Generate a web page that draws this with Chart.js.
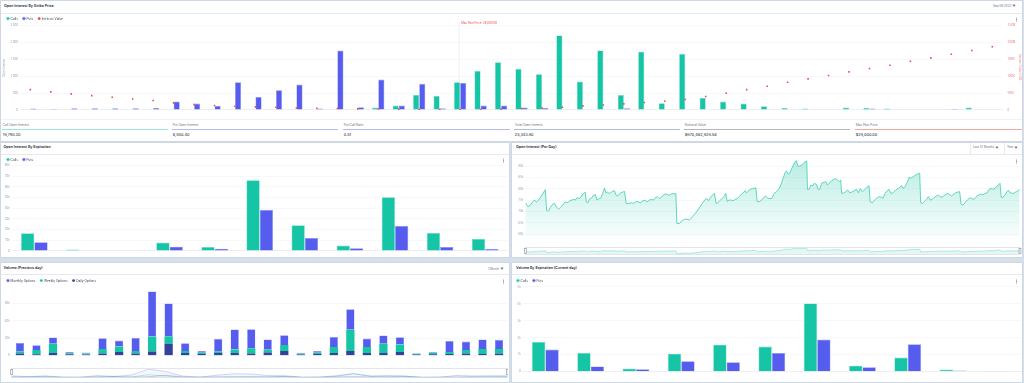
<!DOCTYPE html>
<html><head><meta charset="utf-8">
<script src="https://cdn.jsdelivr.net/npm/chart.js@4.4.1/dist/chart.umd.min.js"></script>
<style>
html,body{margin:0;padding:0;}
body{width:1024px;height:383px;overflow:hidden;background:#d7dfea;position:relative;font-family:Inter,"Noto Sans",sans-serif;}
.panel{position:absolute;background:#fff;box-shadow:0 0 0 0.6px #c9d3e0;}
.t{position:absolute;white-space:nowrap;line-height:1;}
.title{font-size:3.6px;font-weight:600;color:#1f2937;}
.sep{position:absolute;height:0.7px;background:#e6e9ee;}
.vsep{position:absolute;width:0.7px;background:#e6e9ee;}
canvas{position:absolute;}
.kebab{position:absolute;width:1px;height:1px;border-radius:50%;background:#6b7280;box-shadow:0 -1.6px 0 #6b7280,0 1.6px 0 #6b7280;}
.sl{font-size:3.1px;color:#6b7280;}
.sv{font-size:3.9px;color:#111827;}
.ul{position:absolute;height:0.8px;}
.dd{font-size:3px;color:#6b7280;}
.chev{display:inline-block;width:1px;height:1px;border-right:0.5px solid #6b7280;border-bottom:0.5px solid #6b7280;transform:rotate(45deg);margin-left:1.5px;position:relative;top:-0.6px;}
</style></head><body>

<!-- panels -->
<div class="panel" style="left:1px;top:1px;width:1021px;height:139.5px"></div>
<div class="panel" style="left:1px;top:142.7px;width:508px;height:114.8px"></div>
<div class="panel" style="left:512px;top:142.7px;width:510px;height:114.8px"></div>
<div class="panel" style="left:1px;top:262.8px;width:508px;height:119px"></div>
<div class="panel" style="left:512px;top:262.8px;width:510px;height:119px"></div>

<!-- headers -->
<div class="t title" style="left:4px;top:4.7px">Open Interest By Strike Price</div>
<div class="t dd" style="left:993px;top:5px">Sep 08 2023<span class="chev"></span></div>
<div class="sep" style="left:1px;top:12.5px;width:1021px"></div>

<div class="t title" style="left:3.5px;top:146.2px">Open Interest By Expiration</div>
<div class="sep" style="left:1px;top:154px;width:508px"></div>

<div class="t title" style="left:516px;top:145.8px">Open Interest (Per Day)</div>
<div class="vsep" style="left:970px;top:142.7px;height:11.3px"></div>
<div class="t dd" style="left:973px;top:146.3px">Last 12 Months<span class="chev"></span></div>
<div class="vsep" style="left:1004px;top:142.7px;height:11.3px"></div>
<div class="t dd" style="left:1007px;top:146.3px">Year<span class="chev"></span></div>
<div class="sep" style="left:512px;top:154px;width:510px"></div>

<div class="t title" style="left:3.5px;top:267.2px">Volume (Previous day)</div>
<div class="t dd" style="left:488px;top:267.6px">1 Month<span class="chev"></span></div>
<div class="sep" style="left:1px;top:274px;width:508px"></div>

<div class="t title" style="left:516px;top:267.2px">Volume By Expiration (Current day)</div>
<div class="sep" style="left:512px;top:274px;width:510px"></div>

<div class="kebab" style="left:1016px;top:19.3px"></div>
<div class="kebab" style="left:503px;top:160px"></div>
<div class="kebab" style="left:1016px;top:160.5px"></div>
<div class="kebab" style="left:503px;top:281px"></div>
<div class="kebab" style="left:1016px;top:281px"></div>

<!-- stats row -->
<div class="sep" style="left:1px;top:119px;width:1021px;background:#f0f2f5"></div>
<div id="stats"></div>

<canvas id="cStrike" width="1020" height="106" style="left:2px;top:12.4px"></canvas>
<canvas id="cExp" width="506" height="104" style="left:2px;top:153.4px"></canvas>
<canvas id="cDay" width="510" height="87" style="left:512px;top:155px"></canvas>
<canvas id="cDayNav" width="510" height="12" style="left:512px;top:245.5px"></canvas>
<canvas id="cVol" width="506" height="92" style="left:2px;top:274.4px"></canvas>
<canvas id="cVolNav" width="506" height="15" style="left:2px;top:366.5px"></canvas>
<canvas id="cVolExp" width="510" height="107" style="left:512px;top:274.4px"></canvas>

<script>
// ---------- DATA ----------
const strikeLabels = ['10000','12000','14000','15000','16000','17000','18000','19000','20000','20500','21000','21500','22000','22500','23000','23500','24000','24500','25000','25250','25500','26000','26500','27000','28000','29000','30000','31000','32000','33000','34000','35000','36000','37000','38000','39000','40000','41000','42000','43000','44000','45000','46000','47000','48000','50000','55000','60000'];
const callsOI = [0,0,0,0,0,0,0,0,0,0,0,0,0,0,0,0,0,68,128,445,415,819,1157,1413,1217,1060,2210,840,1765,440,1725,200,1662,356,246,187,107,59,40,10,68,59,40,0,0,20,68,0];
const putsOI = [40,25,50,50,50,50,60,246,187,118,819,385,582,750,40,1760,77,900,128,772,48,800,128,128,68,55,15,0,15,50,0,0,0,0,0,0,0,0,0,0,0,40,0,10,0,30,0,0];
const intrinsicM = [60.2,53.4,47.5,42.4,37.4,32.6,27.6,20.8,15.7,12.8,10.7,8.9,7.7,5.9,4.7,3.9,3.0,2.4,1.8,1.2,0.9,0.6,0.9,2.1,3.9,5.9,7.7,11.9,14.8,17.8,21.7,25.5,30.6,39.5,49.3,60.2,70.0,81.9,92.0,101.8,112.8,122.6,132.4,144.2,154.3,165.0,176.0,187.0];
const maxPainStrike = '26000';
const maxPainText = 'Max Pain Price: 26,000.00';
const strikeYTicks = [0,500,1000,1500,2000,2500];
const intrinsicYTicks = [0,50,100,150,200,250];

const statLabels = ['Call Open Interest','Put Open Interest','Put/Call Ratio','Total Open Interest','Notional Value','Max Pain Price'];
const statValues = ['16,793.20','8,550.40','0.51','25,343.60','$670,482,626.58','$26,000.00'];

const expiries = ['08 Sep','09 Sep','10 Sep','15 Sep','22 Sep','29 Sep','27 Oct','24 Nov','29 Dec','29 Mar','28 Jun'];
const expCallsK = [16.5,1.2,0,7.8,3.7,66.3,24.0,5.0,50.3,16.9,11.3];
const expPutsK = [8.1,0.3,0,4.0,2.1,38.5,12.2,2.5,23.5,3.7,1.9];

const volExpCallsK = [1.75,1.10,0.18,1.06,1.59,1.48,4.02,0.35,0.83,0.12,0.04];
const volExpPutsK = [1.30,0.30,0.14,0.61,0.55,1.10,1.89,0.26,1.61,0.06,0.03];

const volDays = ['9 Aug','10 Aug','11 Aug','12 Aug','13 Aug','14 Aug','15 Aug','16 Aug','17 Aug','18 Aug','19 Aug','20 Aug','21 Aug','22 Aug','23 Aug','24 Aug','25 Aug','26 Aug','27 Aug','28 Aug','29 Aug','30 Aug','31 Aug','1 Sep','2 Sep','3 Sep','4 Sep','5 Sep','6 Sep','7 Sep'];
const volMonthlyK = [9.6,5.4,7.3,1.5,1.2,12.3,6.9,15.0,51.9,37.7,8.8,1.9,14.2,23.1,21.9,11.9,11.2,1.2,1.9,11.5,23.8,9.6,9.6,8.5,0.8,0.8,12.7,9.6,10.8,10.4];
const volWeeklyK = [2.7,5.0,10.4,1.2,1.2,5.4,6.2,3.1,17.3,8.8,2.3,1.5,1.9,3.8,6.2,3.1,6.9,0.8,1.5,6.9,24.2,6.9,10.4,8.5,0.8,1.9,2.3,4.2,5.8,5.4];
const volDailyK = [2.3,1.5,3.1,1.5,1.2,2.3,4.2,2.3,4.6,13.5,3.1,1.9,3.1,3.1,2.3,3.5,5.4,1.2,1.9,3.1,5.4,3.1,3.1,4.2,1.2,1.5,1.9,2.3,1.9,2.3];
const volYTicks = [0,20,40,60];

// Open interest per day: day offset from 9 Sep 2022, value in thousands
const oiDay = [0,2,3.7,5.4,6.9,8.1,9.8,11.5,13,14.7,15.7,17.2,18.6,20.1,21.6,23,24.5,26,27.5,28.9,30.1,31.4,32.6,34.3,35.8,36.8,38.2,40,41.7,43.1,44.1,44.9,46.1,47.3,48.5,49.8,51.5,52.7,53.9,55.4,56.9,58.3,59.3,60.5,61.8,63,64.5,65.7,66.7,67.6,68.9,70.1,71.6,73,74.3,76,77.9,79.7,81.4,82.8,84.6,86.5,88.2,89.5,91.2,92.6,94.4,95.6,97.3,98.8,100.5,102.2,103.7,105.4,106.6,107.8,109.6,110.8,111.5,113.5,115.2,117.2,118.9,120.6,122.5,125,127,128.9,130.6,132.4,133.8,134.8,136.3,137.7,139.2,140.4,141.7,142.9,144.6,146.3,147.5,148.5,150,151.5,152.9,154.4,155.9,157.4,158.8,160.3,161.8,162.7,163.7,165.4,167.2,169.6,170.6,172.3,174,176,176.9,178.4,180.1,181.4,183.1,184.8,186.8,188,189.7,191.2,192.2,193.4,194.6,196.1,197.3,198.5,199.5,200.5,202,203.4,205.1,206.4,207.1,207.6,208.8,210,211.3,212.7,214.2,215.4,216.7,218.1,219.9,221.1,222.3,223.5,225.5,227.2,228.4,229.7,230.9,232.1,232.8,234.6,235.8,237.3,238.7,240.2,241.9,243.6,245.1,246.6,248,250,251.7,252.9,253.7,255.4,256.9,258.3,260.3,262.3,263.2,264.7,266.2,267.6,269.1,270.6,272.5,274,275.5,276.9,277.9,279.4,280.9,282.4,283.8,285.3,287.3,288.7,290.2,290.9,292.2,293.6,295.1,296.6,298,299.5,301,302.5,303.9,305.1,306.4,307.8,309.3,311,312.5,313.7,315.4,316.7,318.1,319.6,320.6,322.1,323.5,325.2,326.5,327.9,329.4,330.9,332.4,333.8,335.3,336.8,338.2,339.9,341.2,342.6,344.1,345.6,347.1,348.5,349.3,350.2,351.5,353,354.4,355.4,356.6,358.3,360,361.3,362.7,363.7];
const oiValK = [73.9,72.2,72.8,74.4,75.1,74.2,75.1,76.6,78.0,79.7,70.4,70.3,71.9,73.2,73.6,71.9,71.1,71.9,72.9,74.1,74.2,73.9,74.8,75.1,75.4,75.1,76.1,75.8,77.3,78.0,78.6,74.2,73.9,75.7,75.8,76.9,77.6,75.1,75.6,75.8,78.0,80.4,78.3,78.6,78.0,78.5,79.1,79.2,77.3,76.9,77.5,78.2,78.6,78.9,73.6,73.6,73.9,73.6,74.4,74.4,73.9,74.8,75.1,74.2,75.0,75.4,75.1,76.1,76.6,75.7,76.6,77.6,77.8,77.2,77.5,77.9,77.8,78.0,64.8,64.8,66.0,66.6,66.7,66.3,67.3,69.2,70.7,72.5,73.9,75.4,75.7,74.8,76.3,77.3,78.0,73.6,73.9,74.8,75.6,76.6,78.0,74.5,75.1,75.1,74.8,75.4,75.7,76.6,77.6,78.3,79.2,78.3,78.8,79.8,80.1,80.5,74.4,74.4,75.1,76.6,76.9,75.8,75.8,75.8,78.0,78.8,80.2,81.7,84.7,87.2,88.0,86.6,86.9,89.1,90.5,92.0,92.4,90.1,90.1,90.5,91.6,92.0,92.3,79.8,79.8,81.7,81.3,82.5,82.0,79.8,79.8,82.5,82.9,83.2,81.7,82.5,83.6,84.2,84.5,83.9,83.2,83.9,78.0,78.3,78.8,79.5,78.3,78.6,79.2,79.8,78.3,80.2,78.8,79.8,81.0,81.4,74.4,73.9,75.1,75.8,76.6,76.3,75.8,78.0,79.2,79.8,78.0,78.3,79.5,80.1,80.7,81.6,80.2,81.0,82.7,85.1,84.7,85.4,86.1,86.6,86.9,73.9,73.6,74.4,75.4,76.6,75.1,75.4,76.3,76.9,77.3,76.6,76.3,76.9,77.6,78.0,77.3,76.9,77.8,78.3,78.6,78.8,73.3,72.9,73.9,75.1,75.8,76.1,75.4,75.8,77.0,77.3,77.8,77.3,78.0,78.3,79.8,80.2,79.9,80.2,81.3,82.0,82.5,76.3,76.3,77.3,78.8,79.5,78.5,78.0,78.3,78.8,79.2,79.8];
const oiYTicks = [60,65,70,75,80,85,90];
const oiTickDays = [8,26,41,55,69,84,99,112,129,144,158,172,187,202,216,242,256,271,286,301,315,330,344,360];
const oiTickLabels = ['18 Sep','2 Oct','16 Oct','30 Oct','13 Nov','27 Nov','11 Dec','1 Jan','15 Jan','29 Jan','12 Feb','26 Feb','12 Mar','26 Mar','9 Apr','7 May','21 May','4 Jun','18 Jun','2 Jul','16 Jul','30 Jul','13 Aug','27 Aug'];
const navTickDays = [20,52,85,118,151,179,237,265,296,332,360];
const navTickLabels = ['Oct 22','Nov 22','Dec 22','Jan 23','Feb 23','Mar 23','May 23','Jun 23','Jul 23','Aug 23','Sep 23'];

// ---------- STYLE ----------
const F = 'Inter, "Noto Sans", sans-serif';
const TEAL = '#15c5a6', TEAL_L = '#6fdcc7';
const BLUE = '#555cee', BLUE_L = '#9296f4';
const NAVY = '#33429a';
const RED = '#f04848';
const TICK = '#9ca3af';
const GRID = '#f1f3f6';
Chart.defaults.font.family = F;
Chart.defaults.color = TICK;
Chart.defaults.animation = false;
Chart.defaults.responsive = false;
Chart.defaults.plugins.tooltip.enabled = false;

const legendFix = { id:'legendFix', beforeInit(chart, args, opts){ const lg = chart.legend; if(!lg || !opts || opts.h == null) return; const f = lg.fit; lg.fit = function(){ f.call(this); this.height = opts.h; }; } };
const navFrame = { id:'navFrame', afterDraw(chart){ const a = chart.chartArea, c = chart.ctx; c.save(); c.strokeStyle='#cfd6e0'; c.lineWidth=0.6; c.strokeRect(a.left, a.top, a.right-a.left, a.bottom-a.top); c.fillStyle='#f3f4f6'; c.strokeStyle='#8a94a3'; [a.left, a.right].forEach(x=>{ c.fillRect(x-1, a.top+1, 2, 5); c.strokeRect(x-1, a.top+1, 2, 5); }); c.restore(); } };
const fixW = w => s => { s.width = w; };
const fixH = h => s => { s.height = h; };
const tickFont = {size:2.8, family:F};
const legendOpts = (h, sort) => ({ align:'start', labels:{ usePointStyle:true, pointStyle:'circle', boxWidth:2, boxHeight:2, padding:5, font:{size:3.2, family:F}, color:'#374151', sort } });
const BW = 0.6;

// ---------- STATS ROW ----------
(function(){
  const lefts = [2,172,343,514,684,855];
  const widths = [166,166,167,166,166,167];
  const cols = ['#9fe3d4','#b8baf4','#b8baf4','#aebfdc','#b3b7bd','#f2aaa3'];
  const box = document.getElementById('stats');
  statLabels.forEach((lab,i)=>{
    box.insertAdjacentHTML('beforeend',
      `<div class="t sl" style="left:${lefts[i]+0.8}px;top:123.7px">${lab}</div>`+
      `<div class="ul" style="left:${lefts[i]}px;top:128.8px;width:${widths[i]}px;background:${cols[i]}"></div>`+
      `<div class="t sv" style="left:${lefts[i]+0.8}px;top:132.6px">${statValues[i]}</div>`);
  });
})();

// ---------- OPEN INTEREST BY STRIKE ----------
const maxPain = { id:'maxPain',
  beforeDatasetsDraw(chart){ const i = strikeLabels.indexOf(maxPainStrike); const x = chart.scales.x.getPixelForValue(i) - 1; const a = chart.chartArea, c = chart.ctx; c.save(); c.strokeStyle='#e3e6ea'; c.lineWidth=0.7; c.beginPath(); c.moveTo(x, a.top-3); c.lineTo(x, a.bottom); c.stroke(); c.restore(); },
  afterDatasetsDraw(chart){ const i = strikeLabels.indexOf(maxPainStrike); const x = chart.scales.x.getPixelForValue(i) + 1; const c = chart.ctx; c.save(); c.fillStyle = RED; c.font = '2.9px '+F; c.textBaseline='middle'; c.fillText(maxPainText, x, chart.chartArea.top - 2.6); c.restore(); } };

new Chart(document.getElementById('cStrike'), {
  type:'bar',
  data:{ labels: strikeLabels, datasets:[
    {label:'Calls', data:callsOI, backgroundColor:TEAL, borderColor:TEAL_L, borderWidth:BW, categoryPercentage:0.6, barPercentage:1, order:1},
    {label:'Puts', data:putsOI, backgroundColor:BLUE, borderColor:BLUE_L, borderWidth:BW, categoryPercentage:0.6, barPercentage:1, order:1},
    {type:'line', label:'Intrinsic Value', data:intrinsicM, yAxisID:'y1', showLine:false, pointStyle:'rect', pointRadius:1.1, pointBackgroundColor:RED, pointBorderWidth:0, backgroundColor:RED, borderColor:RED, order:0}
  ]},
  options:{
    layout:{padding:0},
    plugins:{ legend: legendOpts(13.6, (a,b)=>a.datasetIndex-b.datasetIndex), legendFix:{h:13.6} },
    scales:{
      x:{ grid:{display:false}, border:{color:'#e5e7eb', width:0.6}, ticks:{font:tickFont, color:TICK, maxRotation:0, autoSkip:false, padding:1.5}, afterFit: fixH(8.1) },
      y:{ min:0, max:2500, afterBuildTicks:s=>{ s.ticks = strikeYTicks.map(v=>({value:v})); }, ticks:{font:tickFont, color:TICK, padding:2}, grid:{color:GRID, drawTicks:false, lineWidth:0.6}, border:{display:false},
          title:{display:true, text:'Open Interest', font:{size:2.8, family:F}, color:TICK, padding:{top:0,bottom:0}}, afterFit: fixW(18.1) },
      y1:{ position:'right', min:0, max:250, afterBuildTicks:s=>{ s.ticks = intrinsicYTicks.map(v=>({value:v})); }, ticks:{font:tickFont, color:'#f08080', padding:5, callback:v=> v===0 ? '0' : v+'M'}, grid:{display:false, drawTicks:false}, border:{display:false},
          title:{display:true, text:'Intrinsic Value (USD)', font:{size:2.8, family:F}, color:'#f08080', padding:{top:0,bottom:0}}, afterFit: fixW(19.5) }
    }
  },
  plugins:[legendFix, maxPain]
});

// ---------- OPEN INTEREST BY EXPIRATION ----------
new Chart(document.getElementById('cExp'), {
  type:'bar',
  data:{ labels: expiries, datasets:[
    {label:'Calls', data:expCallsK, backgroundColor:TEAL, borderColor:TEAL_L, borderWidth:BW, categoryPercentage:0.59, barPercentage:1},
    {label:'Puts', data:expPutsK, backgroundColor:BLUE, borderColor:BLUE_L, borderWidth:BW, categoryPercentage:0.59, barPercentage:1}
  ]},
  options:{
    layout:{padding:{right:0.3}},
    plugins:{ legend: legendOpts(12.6), legendFix:{h:12.6} },
    scales:{
      x:{ grid:{display:false}, border:{color:'#e5e7eb', width:0.6}, ticks:{font:tickFont, color:TICK, maxRotation:0, autoSkip:false, padding:1.5}, afterFit: fixH(6.1) },
      y:{ min:0, max:80, ticks:{stepSize:10, font:tickFont, color:TICK, padding:2, callback:v=> v===0 ? '0' : v+'k'}, grid:{color:GRID, drawTicks:false, lineWidth:0.6}, border:{display:false}, afterFit: fixW(9.8) }
    }
  },
  plugins:[legendFix]
});

// ---------- OPEN INTEREST PER DAY ----------
const oiPoints = oiDay.map((d,i)=>({x:d, y:oiValK[i]}));
const areaFill = (ctx) => { const ch = ctx.chart, a = ch.chartArea; if(!a) return 'rgba(23,196,166,0.15)'; const g = ch.ctx.createLinearGradient(0, a.top, 0, a.bottom); g.addColorStop(0,'rgba(23,196,166,0.30)'); g.addColorStop(1,'rgba(23,196,166,0.03)'); return g; };
new Chart(document.getElementById('cDay'), {
  type:'line',
  data:{ datasets:[{ label:'Open Interest', data:oiPoints, borderColor:'#4fd3b8', borderWidth:0.9, pointRadius:0, fill:'start', backgroundColor:areaFill, tension:0 }]},
  options:{
    layout:{padding:{top:4.4, right:2}},
    plugins:{ legend:{display:false} },
    scales:{
      x:{ type:'linear', min:0, max:364, afterBuildTicks:s=>{ s.ticks = oiTickDays.map(v=>({value:v})); }, ticks:{font:tickFont, color:TICK, maxRotation:0, autoSkip:false, padding:1.5, callback:(v,i)=>oiTickLabels[i]}, grid:{display:false}, border:{display:false}, afterFit: fixH(5.4) },
      y:{ min:59, max:93, afterBuildTicks:s=>{ s.ticks = oiYTicks.map(v=>({value:v})); }, ticks:{font:tickFont, color:TICK, padding:2, callback:v=>v+'k'}, grid:{color:GRID, drawTicks:false, lineWidth:0.6}, border:{display:false}, afterFit: fixW(13.3) }
    }
  }
});
new Chart(document.getElementById('cDayNav'), {
  type:'line',
  data:{ datasets:[{ data:oiPoints, borderColor:'#7fdcc8', borderWidth:0.6, pointRadius:0, fill:'start', backgroundColor:'rgba(23,196,166,0.12)', tension:0 }]},
  options:{
    layout:{padding:{top:1.5, left:13.3, right:2}},
    plugins:{ legend:{display:false} },
    scales:{
      x:{ type:'linear', min:0, max:364, afterBuildTicks:s=>{ s.ticks = navTickDays.map(v=>({value:v})); }, ticks:{font:{size:2.5,family:F}, color:'#a7aeb8', maxRotation:0, autoSkip:false, padding:0.5, callback:(v,i)=>navTickLabels[i]}, grid:{display:false}, border:{display:false}, afterFit: fixH(3.5) },
      y:{ display:false, min:60, max:96 }
    }
  },
  plugins:[navFrame]
});

// ---------- VOLUME PREVIOUS DAY ----------
new Chart(document.getElementById('cVol'), {
  type:'bar',
  data:{ labels: volDays, datasets:[
    {label:'Daily Options', data:volDailyK, backgroundColor:NAVY, borderWidth:0},
    {label:'Weekly Options', data:volWeeklyK, backgroundColor:TEAL, borderWidth:0},
    {label:'Monthly Options', data:volMonthlyK, backgroundColor:BLUE, borderColor:BLUE_L, borderWidth:{top:0.6,left:0.4,right:0.4,bottom:0}}
  ]},
  options:{
    layout:{padding:{right:0.7}},
    datasets:{ bar:{ categoryPercentage:1, barPercentage:0.5 } },
    plugins:{ legend: legendOpts(15.5, (a,b)=>b.datasetIndex-a.datasetIndex), legendFix:{h:15.5} },
    scales:{
      x:{ stacked:true, grid:{display:false}, border:{display:false}, ticks:{font:tickFont, color:TICK, maxRotation:0, autoSkip:false, padding:2.5, callback:(v,i)=> i%2===1 ? volDays[i] : ''}, afterFit: fixH(10.4) },
      y:{ stacked:true, min:0, max:76, afterBuildTicks:s=>{ s.ticks = volYTicks.map(v=>({value:v})); }, ticks:{font:tickFont, color:TICK, padding:2, callback:v=> v===0 ? '0' : v+'k'}, grid:{color:GRID, drawTicks:false, lineWidth:0.6}, border:{display:false}, afterFit: fixW(9.7) }
    }
  },
  plugins:[legendFix]
});
new Chart(document.getElementById('cVolNav'), {
  type:'line',
  data:{ labels: volDays, datasets:[
    {data:volMonthlyK, borderColor:'rgba(90,96,239,0.45)', borderWidth:0.6, pointRadius:0, fill:'start', backgroundColor:'rgba(90,96,239,0.06)'},
    {data:volWeeklyK, borderColor:'rgba(23,196,166,0.5)', borderWidth:0.6, pointRadius:0},
    {data:volDailyK, borderColor:'rgba(52,67,155,0.45)', borderWidth:0.6, pointRadius:0}
  ]},
  options:{
    layout:{padding:{top:1.5, left:9.7, right:0.7}},
    plugins:{ legend:{display:false} },
    scales:{
      x:{ grid:{display:false}, border:{display:false}, ticks:{font:{size:2.5,family:F}, color:'#a7aeb8', maxRotation:0, autoSkip:false, padding:0.5, callback:(v,i)=> i%2===0 ? volDays[i] : ''}, afterFit: fixH(4.5) },
      y:{ display:false, min:0, max:56 }
    }
  },
  plugins:[navFrame]
});

// ---------- VOLUME BY EXPIRATION ----------
new Chart(document.getElementById('cVolExp'), {
  type:'bar',
  data:{ labels: expiries, datasets:[
    {label:'Calls', data:volExpCallsK, backgroundColor:TEAL, borderColor:TEAL_L, borderWidth:BW, categoryPercentage:0.59, barPercentage:1},
    {label:'Puts', data:volExpPutsK, backgroundColor:BLUE, borderColor:BLUE_L, borderWidth:BW, categoryPercentage:0.59, barPercentage:1}
  ]},
  options:{
    layout:{padding:{right:1}},
    plugins:{ legend: legendOpts(12.9), legendFix:{h:12.9} },
    scales:{
      x:{ grid:{display:false}, border:{color:'#e5e7eb', width:0.6}, ticks:{font:tickFont, color:TICK, maxRotation:0, autoSkip:false, padding:2}, afterFit: fixH(9.4) },
      y:{ min:0, max:5, ticks:{stepSize:1, font:tickFont, color:TICK, padding:2, callback:v=> v===0 ? '0' : v+'k'}, grid:{color:GRID, drawTicks:false, lineWidth:0.6}, border:{display:false}, afterFit: fixW(10.7) }
    }
  },
  plugins:[legendFix]
});
</script>
</body></html>
